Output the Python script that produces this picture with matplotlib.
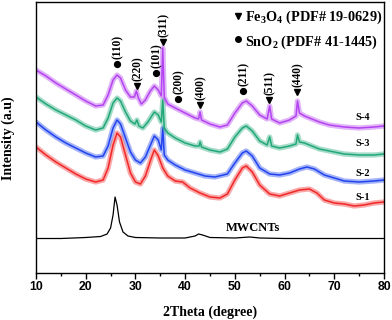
import matplotlib
matplotlib.use("Agg")
import matplotlib.pyplot as plt
from matplotlib.ticker import MultipleLocator

plt.rcParams['mathtext.fontset'] = 'custom'
plt.rcParams['mathtext.rm'] = 'Liberation Serif:bold'
plt.rcParams['mathtext.bf'] = 'Liberation Serif:bold'
plt.rcParams['mathtext.it'] = 'Liberation Serif:bold:italic'

# ---- data (2Theta in degrees, intensity in a.u.) ----
s4_x = [10, 12, 14, 16, 18, 20, 22, 23.5, 24.5, 25.5, 26.3, 27, 28, 29, 29.8, 30.2, 30.6, 31.2, 32, 33,
        33.8, 34.6, 35.2, 35.5, 35.8, 36.5, 38, 40, 42, 42.7, 43, 43.3, 45, 47, 48.5, 50, 51.5, 52.3,
        53.5, 55, 56.5, 57, 57.4, 59, 61, 62.3, 62.6, 63, 64, 65, 67, 69, 72, 75, 78, 80]
s4_y = [203, 197, 190, 184, 178, 172, 167, 168, 178, 193, 198, 195, 183, 176, 176, 182, 175, 169, 173, 182,
        187, 183, 177, 225, 176, 169, 165, 160, 155, 154, 161, 153, 149, 146, 148, 160, 170, 172,
        167, 158, 154, 167, 154, 150, 153, 157, 172, 160, 157, 155, 151, 148, 146, 145, 146, 147]

s3_x = [10, 12, 14, 16, 18, 20, 22, 23.5, 24.5, 25.5, 26.3, 27, 28, 29, 29.9, 30.3, 30.7, 31.5, 32.5,
        33.8, 34.6, 35.2, 35.5, 35.8, 36.5, 38, 40, 42, 42.8, 43, 43.3, 45, 47, 48.5, 50, 51.5, 52.3,
        53.5, 55, 56.5, 57, 57.4, 59, 61, 62.3, 62.6, 63, 64, 65, 67, 69, 72, 75, 78, 80]
s3_y = [176, 169, 163, 158, 153, 147, 143, 145, 155, 170, 175, 172, 161, 152, 149, 153, 147, 145, 151,
        161, 158, 151, 173, 145, 140, 135, 130, 127, 127, 131, 126, 123, 121, 124, 136, 145, 147,
        142, 132, 128, 136, 127, 125, 127, 129, 138, 131, 130, 128, 124, 122, 119, 118, 118, 119]

s2_x = [10, 12, 14, 16, 18, 20, 22, 23.5, 24.5, 25.5, 26.3, 27, 28, 29, 30, 31, 32, 33.2, 33.8, 34.6,
        35.2, 35.5, 35.8, 36.5, 38, 40, 42, 44, 46, 48.5, 50, 51.5, 52.3, 53.5, 55, 57, 59, 61, 63,
        64.5, 66, 68, 70, 72, 75, 78, 80]
s2_y = [151, 143, 136, 130, 125, 120, 116, 117, 127, 145, 153, 149, 135, 121, 113, 110, 116, 130, 137, 133,
        123, 145, 118, 113, 108, 103, 100, 97, 96, 99, 110, 120, 122, 117, 105, 99, 98, 100, 104,
        106, 104, 98, 95, 92, 91, 92, 93]

s1_x = [10, 12, 14, 16, 18, 20, 22, 23.5, 24.5, 25.5, 26.3, 27, 28, 29, 30, 31, 32, 33.2, 33.8, 34.6,
        35.5, 36.5, 38, 39.5, 41, 43, 45, 47, 48.5, 50, 51.5, 52.3, 53.5, 55, 57, 59, 61, 63, 65,
        66.5, 68, 70, 72, 74, 76, 78, 80]
s1_y = [126, 118, 111, 105, 99, 94, 91, 93, 105, 128, 140, 136, 118, 100, 91, 89, 97, 115, 123, 117,
        105, 97, 92, 91, 85, 80, 76, 75, 79, 93, 105, 107, 101, 88, 79, 77, 80, 83, 84,
        80, 73, 70, 69, 67, 68, 70, 71]

cnt_x = [10, 15, 20, 23, 24.3, 25, 25.5, 25.9, 26.3, 26.8, 27.5, 28.5, 30, 35, 40, 42, 42.7, 43.5, 45,
         50, 53, 55, 60, 70, 80]
cnt_y = [34.5, 34.5, 35.5, 36.5, 39, 45, 58, 76, 68, 51, 41, 37, 35.5, 35, 35, 37, 39, 38, 35.5,
         35, 36, 35, 34.5, 34.5, 34.5]

# peak annotations
peak_labels = ['(110)', '(220)', '(101)', '(311)', '(200)', '(400)', '(211)', '(511)', '(440)']
peak_pos = [26.3, 30.3, 34.1, 35.55, 38.6, 43.0, 51.6, 56.9, 62.5]
peak_phase = ['SnO2', 'Fe3O4', 'SnO2', 'Fe3O4', 'SnO2', 'Fe3O4', 'SnO2', 'Fe3O4', 'Fe3O4']
peak_height = [209, 187, 200, 231, 174, 168, 182, 173, 181]

series_names = ['S-1', 'S-2', 'S-3', 'S-4']
series_colors = ['#f02828', '#2244ee', '#22a878', '#b444f0']

fig = plt.figure(figsize=(3.92, 3.20), dpi=100)
ax = fig.add_axes([36/392, 47/320, 348/392, 271/320])

series = [(s1_x, s1_y), (s2_x, s2_y), (s3_x, s3_y), (s4_x, s4_y)]
for (xs, ys), c in zip(series, series_colors):
    ax.plot(xs, ys, color=c, lw=3.8, alpha=0.4, solid_joinstyle='round')
    ax.plot(xs, ys, color=c, lw=1.1)
ax.plot(cnt_x, cnt_y, color='black', lw=0.9)

ax.set_xlim(10, 80)
ax.set_ylim(0, 271)
ax.set_yticks([])
ax.xaxis.set_major_locator(MultipleLocator(10))
ax.xaxis.set_minor_locator(MultipleLocator(5))
ax.tick_params(axis='x', which='major', direction='out', length=4, width=1, pad=2)
ax.tick_params(axis='x', which='minor', direction='out', length=2.5, width=1)
for lbl in ax.get_xticklabels():
    lbl.set_fontfamily('Liberation Sans')
    lbl.set_fontweight('bold')
    lbl.set_fontsize(8.8)
for sp in ax.spines.values():
    sp.set_linewidth(1.0)

serif = 'Liberation Serif'
marker_for = {'SnO2': 'o', 'Fe3O4': 'v'}
for lab, px, ph, h in zip(peak_labels, peak_pos, peak_phase, peak_height):
    ax.plot([px], [h], marker=marker_for[ph], color='black', ms=4.2 if ph == 'SnO2' else 5, ls='none')
    ax.text(px + 0.15, h + 5, lab, rotation=90, ha='center', va='bottom',
            fontfamily=serif, fontweight='bold', fontsize=8.3)

# legend
ax.plot([50.6], [257], marker='v', color='black', ms=5, ls='none')
ax.text(52.0, 256, r'Fe$_{3}$O$_{4}$ (PDF# 19-0629)', ha='left', va='center',
        fontfamily=serif, fontweight='bold', fontsize=10.3)
ax.plot([50.6], [234], marker='o', color='black', ms=4, ls='none')
ax.text(52.0, 231, r'SnO$_{2}$ (PDF# 41-1445)', ha='left', va='center',
        fontfamily=serif, fontweight='bold', fontsize=10.3)

# series labels
label_y = [76, 100, 129, 155]
for name, ly in zip(series_names, label_y):
    ax.text(75.8, ly, name, ha='center', va='center', fontfamily=serif, fontweight='bold', fontsize=7.5)
ax.text(53.7, 45, 'MWCNTs', ha='center', va='center', fontfamily=serif, fontweight='bold', fontsize=9)

fig.text(210/392, 8/320, '2Theta (degree)', ha='center', va='center',
         fontfamily=serif, fontweight='bold', fontsize=10)
fig.text(8/392, 182/320, 'Intensity (a.u)', ha='center', va='center', rotation=90,
         fontfamily=serif, fontweight='bold', fontsize=10)

fig.savefig('out.png', dpi=100)
